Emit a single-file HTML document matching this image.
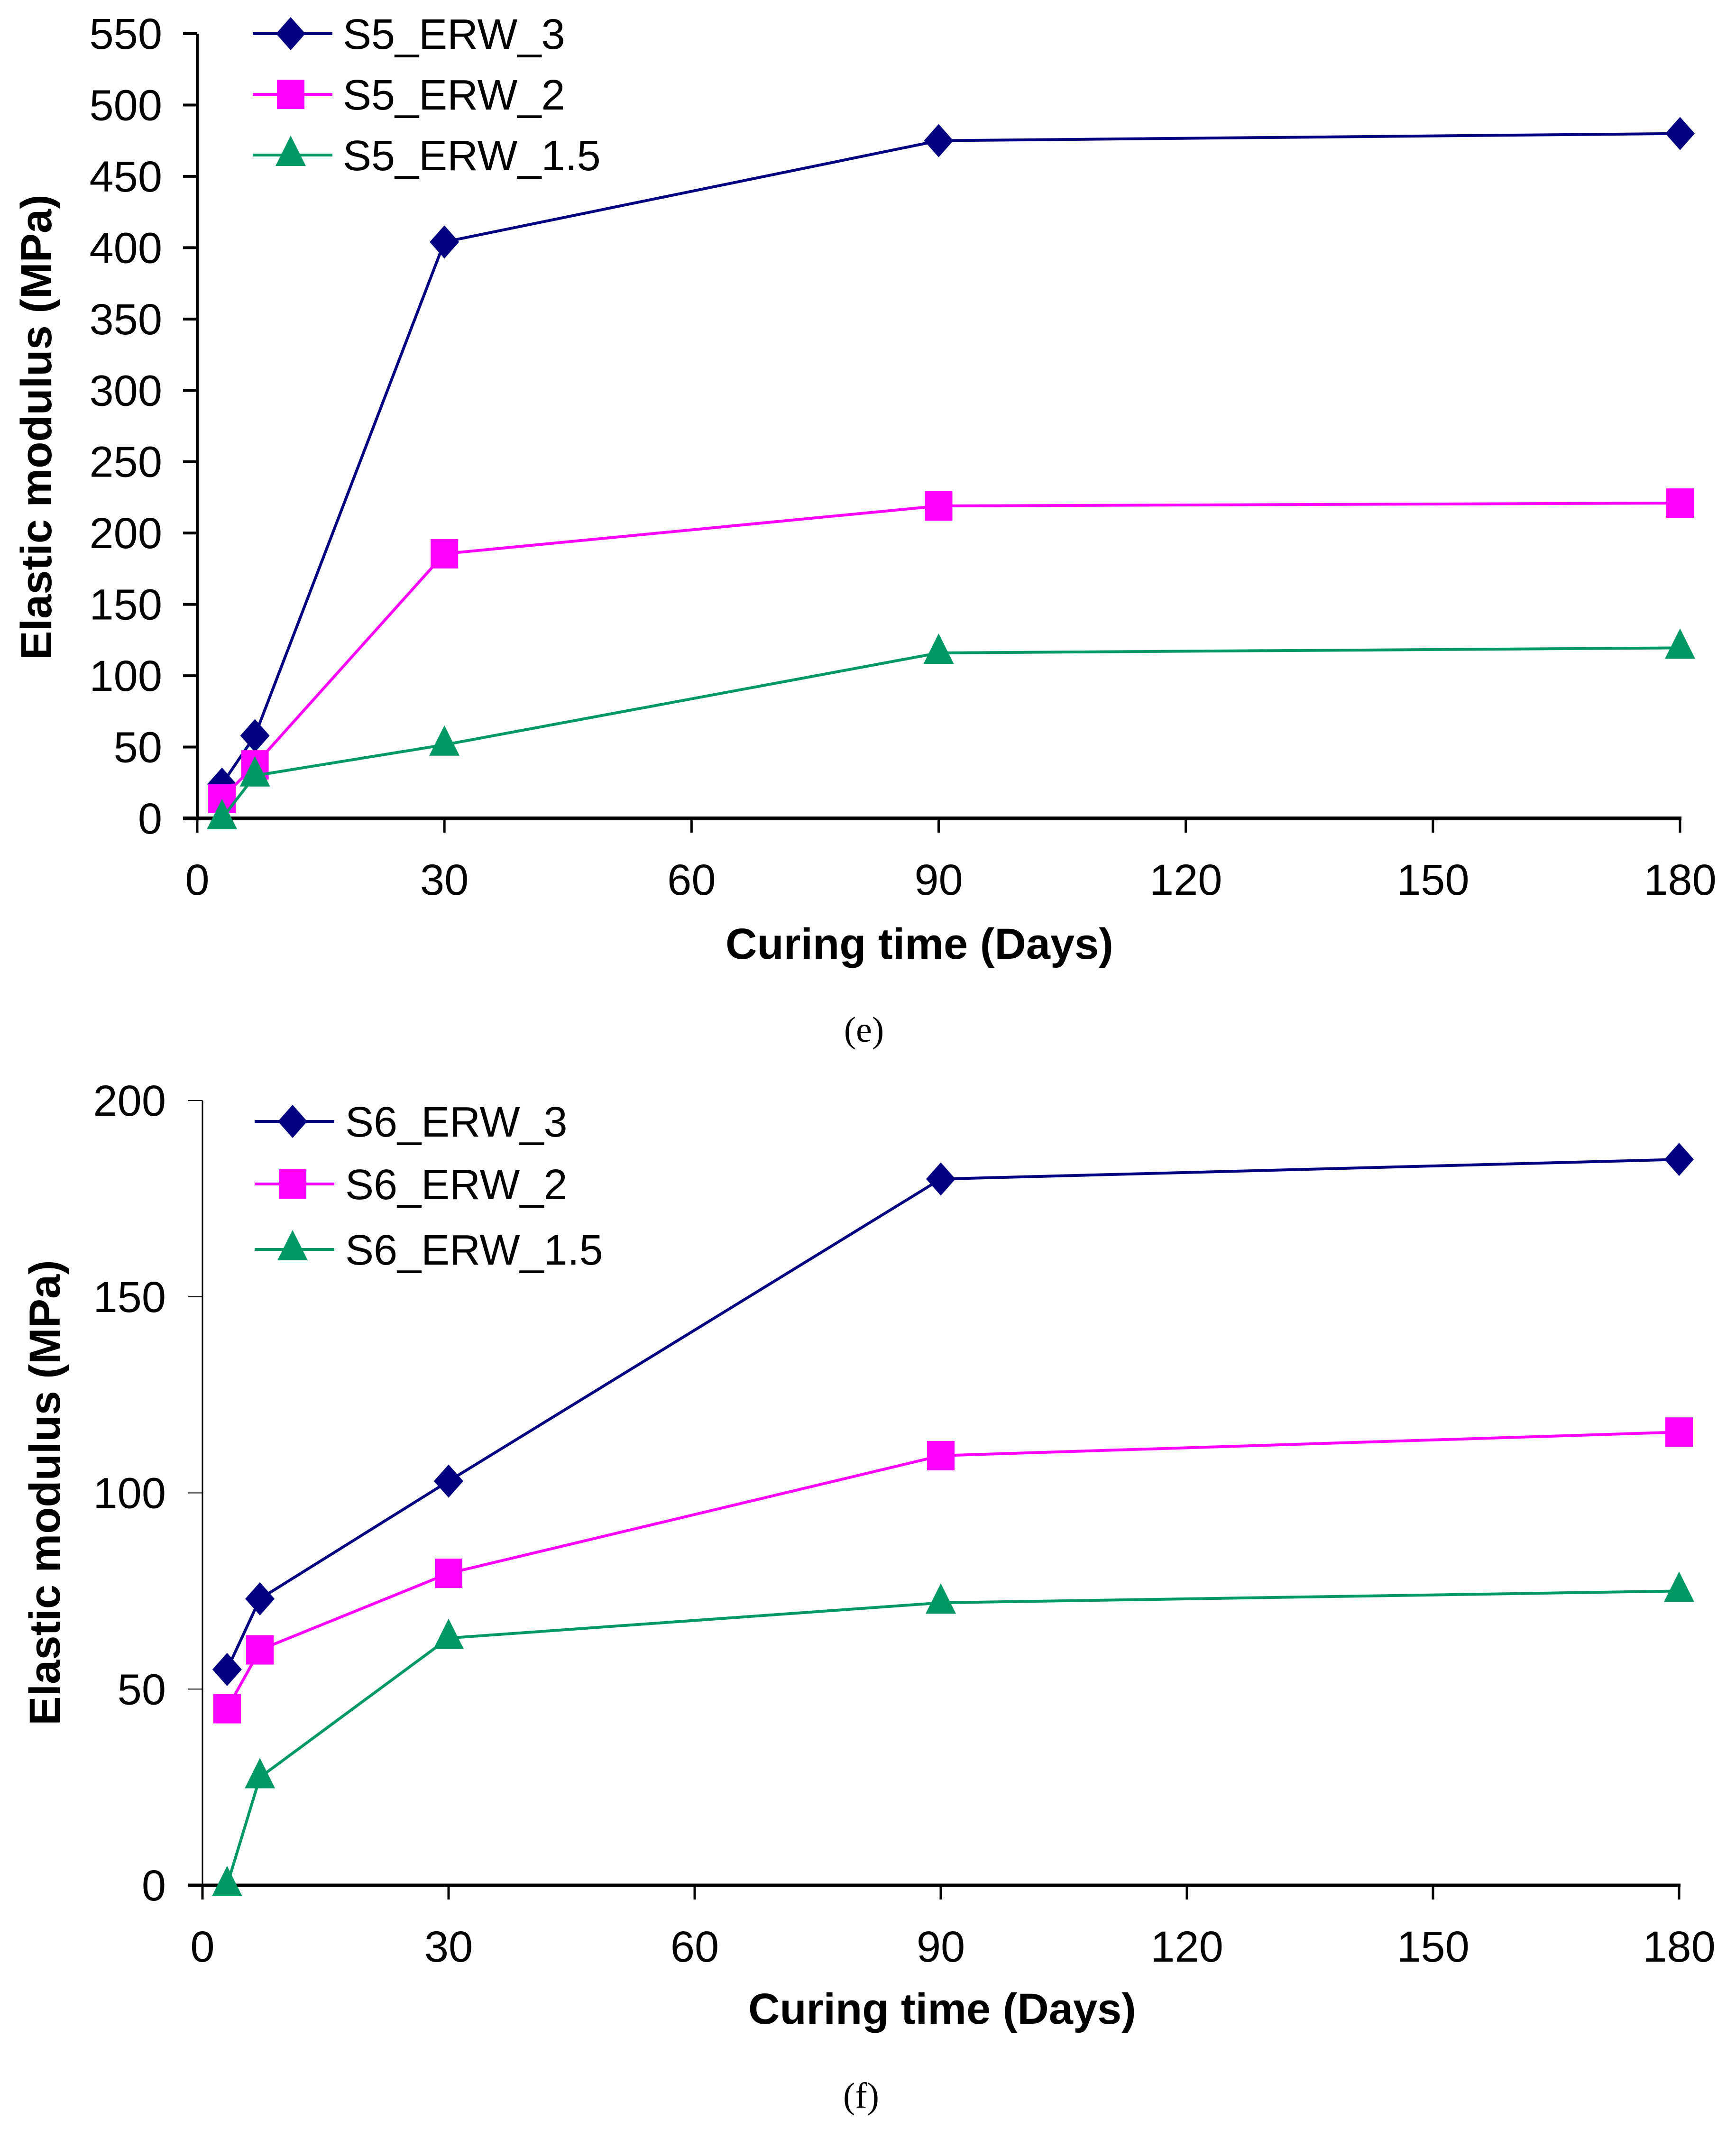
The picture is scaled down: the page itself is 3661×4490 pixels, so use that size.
<!DOCTYPE html>
<html><head><meta charset="utf-8"><style>
html,body{margin:0;padding:0;background:#fff;}
svg{display:block;font-family:"Liberation Sans",sans-serif;}
</style></head>
<body>
<svg id="svg" width="3661" height="4490" viewBox="0 0 3661 4490" xmlns="http://www.w3.org/2000/svg"></svg>
<script>
const days = [3, 7, 30, 90, 180];
const xTicks = [0, 30, 60, 90, 120, 150, 180];
const eNames = ["S5_ERW_3", "S5_ERW_2", "S5_ERW_1.5"];
const eErw3 = [24, 58, 404, 475, 480];
const eErw2 = [14, 37.5, 185.5, 219, 221];
const eErw15 = [0, 30, 51.6, 116, 119.5];
const eYTicks = [0, 50, 100, 150, 200, 250, 300, 350, 400, 450, 500, 550];
const fNames = ["S6_ERW_3", "S6_ERW_2", "S6_ERW_1.5"];
const fErw3 = [55, 73, 103, 180, 185];
const fErw2 = [45, 60, 79.5, 109.5, 115.5];
const fErw15 = [0, 27.5, 63, 72, 75];
const fYTicks = [0, 50, 100, 150, 200];

const NS = "http://www.w3.org/2000/svg";
const svg = document.getElementById("svg");
const COLORS = ["#000080", "#ff00ff", "#009966"];
const MARKERS = ["diamond", "square", "triangle"];

function mk(tag, attrs, parent, text) {
  const el = document.createElementNS(NS, tag);
  for (const k in attrs) el.setAttribute(k, attrs[k]);
  if (text !== undefined) el.textContent = text;
  (parent || svg).appendChild(el);
  return el;
}
function marker(g, type, x, y, color) {
  let el;
  if (type === "diamond") {
    el = mk("polygon", {points: `${x},${y-35} ${x+31},${y} ${x},${y+35} ${x-31},${y}`, fill: color}, g);
  } else if (type === "square") {
    el = mk("rect", {x: x-29, y: y-31, width: 58, height: 62, fill: color}, g);
  } else {
    el = mk("polygon", {points: `${x},${y-41} ${x+32},${y+23} ${x-32},${y+23}`, fill: color}, g);
  }
  return el;
}

function chart(cfg) {
  const {prefix, x0, x1, y0, y1, yMax, yTicks, series, names, xAxisW, yAxisW, yTickW, yLabelRight,
         yTitleX, yTitleY, xTitleX, xTitleY, xLabelY, capX, capY, cap, legX, legRows, legText} = cfg;
  const X = d => x0 + (d / 180) * (x1 - x0);
  const Y = v => y0 - (v / yMax) * (y0 - y1);
  const g = mk("g", {});
  
  

  const ya = mk("line", {x1: x0, y1: y1, x2: x0, y2: y0, stroke: "#000", "stroke-width": yAxisW}, g);
  
  
  yTicks.forEach(t => {
    const tk = mk("line", {x1: x0 - 30, y1: Y(t), x2: x0, y2: Y(t), stroke: "#000", "stroke-width": yTickW}, g);
    
    
    const lb = mk("text", {x: yLabelRight, y: Y(t) + 32, "text-anchor": "end", "font-size": 92, fill: "#000"}, g, String(t));
    
    
  });
  const xa = mk("line", {x1: x0 - 30, y1: y0, x2: x1 + 3, y2: y0, stroke: "#000", "stroke-width": xAxisW}, g);
  
  
  xTicks.forEach(t => {
    const tk = mk("line", {x1: X(t), y1: y0, x2: X(t), y2: y0 + 30, stroke: "#000", "stroke-width": 5}, g);
    
    
    const lb = mk("text", {x: X(t), y: xLabelY, "text-anchor": "middle", "font-size": 92, fill: "#000"}, g, String(t));
    
    
  });
  const yt = mk("text", {x: yTitleX, y: yTitleY, "text-anchor": "middle", "font-size": 92, "font-weight": "bold",
    transform: `rotate(-90 ${yTitleX} ${yTitleY})`, fill: "#000"}, g, "Elastic modulus (MPa)");
  
  
  const xt = mk("text", {x: xTitleX, y: xTitleY, "text-anchor": "middle", "font-size": 92, "font-weight": "bold", fill: "#000"}, g, "Curing time (Days)");
  
  
  const ct = mk("text", {x: capX, y: capY, "text-anchor": "middle", "font-size": 76, "font-family": "Liberation Serif, serif", fill: "#000"}, g, cap);
  
  

  series.forEach((vals, i) => {
    const sg = mk("g", {}, g);
    
    
    const pts = vals.map((v, j) => `${X(days[j])},${Y(v)}`).join(" ");
    const pl = mk("polyline", {points: pts, fill: "none", stroke: COLORS[i], "stroke-width": 6}, sg);
    
    
    vals.forEach((v, j) => {
      const m = marker(sg, MARKERS[i], X(days[j]), Y(v), COLORS[i]);
      
      
    });
    const lg = mk("g", {}, g);
    
    
    const ly = legRows[i];
    mk("line", {x1: legX, y1: ly, x2: legX + 168, y2: ly, stroke: COLORS[i], "stroke-width": 6}, lg);
    marker(lg, MARKERS[i], legX + 80, ly, COLORS[i]);
    mk("text", {x: legText, y: ly + 32, "font-size": 90, fill: "#000"}, lg, names[i]);
  });
}

chart({prefix: "e", x0: 416, x1: 3543, y0: 1726, y1: 71, yMax: 550, yTicks: eYTicks,
  series: [eErw3, eErw2, eErw15], names: eNames, xAxisW: 8, yAxisW: 6, yTickW: 6, yLabelRight: 342,
  yTitleX: 108, yTitleY: 901, xTitleX: 1939, xTitleY: 2022, xLabelY: 1887, capX: 1822, capY: 2197, cap: "(e)",
  legX: 533, legRows: [71, 199, 327], legText: 723});

chart({prefix: "f", x0: 427, x1: 3541, y0: 3976, y1: 2321, yMax: 200, yTicks: fYTicks,
  series: [fErw3, fErw2, fErw15], names: fNames, xAxisW: 7, yAxisW: 3, yTickW: 2, yLabelRight: 350,
  yTitleX: 126, yTitleY: 3148, xTitleX: 1987, xTitleY: 4268, xLabelY: 4137, capX: 1816, capY: 4445, cap: "(f)",
  legX: 537, legRows: [2365, 2497, 2635], legText: 728});
</script>
</body></html>
